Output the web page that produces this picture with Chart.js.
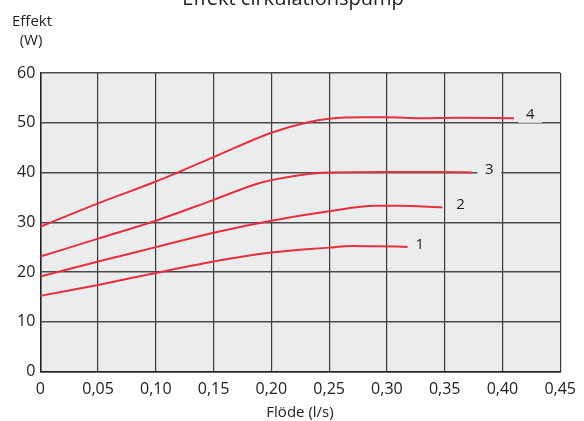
<!DOCTYPE html>
<html>
<head>
<meta charset="utf-8">
<script src="https://cdn.jsdelivr.net/npm/chart.js@4.4.0/dist/chart.umd.min.js"></script>
<style>
  html, body { margin: 0; padding: 0; background: #fff; }
  #wrap { width: 584px; height: 421px; }
</style>
</head>
<body>
<div id="wrap"><canvas id="myChart" width="584" height="421"></canvas></div>
<script>
// curve values (flow l/s -> power W)
const flow1 = [0, 0.05, 0.10, 0.15, 0.20, 0.25, 0.27, 0.29, 0.318];
const power1 = [15.2, 17.4, 19.8, 22.1, 23.9, 24.9, 25.25, 25.2, 25.05];

const flow2 = [0, 0.05, 0.10, 0.15, 0.20, 0.25, 0.29, 0.31, 0.348];
const power2 = [19.1, 22.1, 25.0, 27.9, 30.3, 32.2, 33.3, 33.3, 33.0];

const flow3 = [0, 0.05, 0.10, 0.15, 0.19, 0.22, 0.25, 0.30, 0.35, 0.374];
const power3 = [23.1, 26.7, 30.3, 34.5, 37.9, 39.3, 40.0, 40.1, 40.1, 40.0];

const flow4 = [0, 0.05, 0.10, 0.15, 0.20, 0.23, 0.25, 0.28, 0.30, 0.33, 0.36, 0.41];
const power4 = [29.1, 33.8, 38.2, 43.1, 48.0, 50.0, 50.8, 51.1, 51.1, 50.9, 51.0, 50.9];

const curveNames = ['1', '2', '3', '4'];
const xTickLabels = ['0', '0,05', '0,10', '0,15', '0,20', '0,25', '0,30', '0,35', '0,40', '0,45'];

const titleText = 'Effekt cirkulationspump';
const yTitleLines = ['Effekt', '(W)'];
const xTitleText = 'Flöde (l/s)';

// where the curve numbers sit, in data units
const labelAt = [
    { x: 0.3285, y: 25.45 },
    { x: 0.3638, y: 33.5 },
    { x: 0.3887, y: 40.5 },
    { x: 0.424, y: 51.6 }
];

const RED = '#e8303d';
const PLOT_BG = '#ebeced';
const FONT = '"Open Sans", "Noto Sans", sans-serif';

const toPoints = (xs, ys) => xs.map((x, i) => ({ x: x, y: ys[i] }));

const series = [
    toPoints(flow1, power1),
    toPoints(flow2, power2),
    toPoints(flow3, power3),
    toPoints(flow4, power4)
];

const extras = {
    id: 'extras',
    beforeDraw(chart) {
        const { ctx, chartArea: a } = chart;
        ctx.save();
        ctx.fillStyle = PLOT_BG;
        ctx.fillRect(a.left, a.top, a.right - a.left, a.bottom - a.top);
        ctx.restore();
    },
    afterDraw(chart) {
        const { ctx } = chart;
        const xs = chart.scales.x, ys = chart.scales.y;
        ctx.save();
        ctx.fillStyle = '#222';

        // chart title, partly cut at the top
        ctx.font = '20px ' + FONT;
        ctx.textAlign = 'center';
        ctx.textBaseline = 'alphabetic';
        ctx.fillText(titleText, 293, 5);

        // y axis title
        ctx.font = '15px ' + FONT;
        ctx.fillText(yTitleLines[0], 32, 26);
        ctx.fillText(yTitleLines[1], 31, 45);

        // x axis title
        ctx.fillText(xTitleText, 300, 417);

        // curve numbers with a small box hiding the grid behind them
        ctx.textBaseline = 'middle';
        labelAt.forEach((p, i) => {
            const px = xs.getPixelForValue(p.x);
            const py = ys.getPixelForValue(p.y);
            ctx.fillStyle = PLOT_BG;
            ctx.fillRect(px - 12, py - 6, 24, 14);
            ctx.fillStyle = '#222';
            ctx.fillText(curveNames[i], px, py);
        });
        ctx.restore();
    }
};

const chart = new Chart(document.getElementById('myChart'), {
    type: 'line',
    data: {
        datasets: series.map((pts, i) => ({
            label: curveNames[i],
            data: pts,
            borderColor: RED,
            borderWidth: 2,
            pointRadius: 0,
            fill: false,
            cubicInterpolationMode: 'monotone'
        }))
    },
    options: {
        responsive: false,
        animation: false,
        layout: { padding: { top: 73, right: 19, left: 0, bottom: 0 } },
        plugins: {
            legend: { display: false },
            tooltip: { enabled: false },
            title: { display: false }
        },
        scales: {
            x: {
                type: 'linear',
                min: 0,
                max: 0.45,
                afterFit: (s) => { s.height = 49.5; },
                afterBuildTicks: (s) => {
                    s.ticks = xTickLabels.map((t, i) => ({ value: i * 0.05 }));
                },
                ticks: {
                    padding: 8,
                    color: '#222',
                    font: { family: FONT, size: 16 },
                    maxRotation: 0,
                    autoSkip: false,
                    callback: (v, i) => xTickLabels[i]
                },
                grid: { color: '#3a3a3a', lineWidth: 1.2, drawTicks: false },
                border: { color: '#222', width: 1.5 }
            },
            y: {
                min: 0,
                max: 60,
                afterFit: (s) => { s.width = 40.3; },
                ticks: {
                    stepSize: 10,
                    padding: 5,
                    color: '#222',
                    font: { family: FONT, size: 16 }
                },
                grid: { color: '#4a4a4a', lineWidth: 1.4, drawTicks: false },
                border: { color: '#222', width: 1.5 }
            }
        }
    },
    plugins: [extras]
});
</script>
</body>
</html>
